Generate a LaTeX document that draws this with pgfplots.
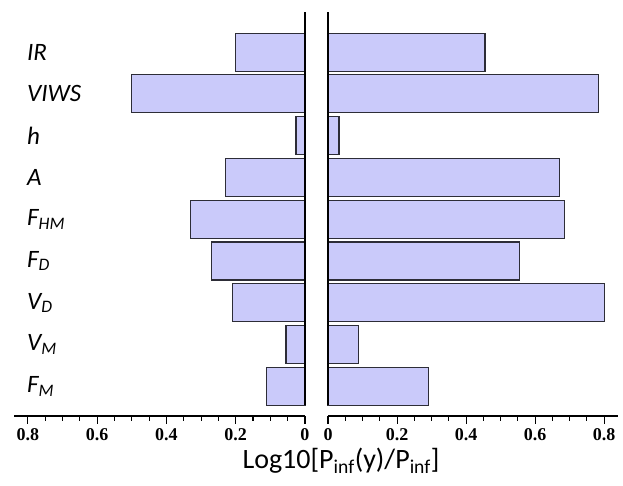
\documentclass[border=0pt]{standalone}
\usepackage{pgfplots}
\pgfplotsset{compat=1.18}
\usepackage{fontspec}
\setmainfont{Carlito}
\newfontfamily\tickfont{Liberation Serif}
\definecolor{barfill}{RGB}{202,202,250}
\definecolor{baredge}{RGB}{45,45,55}
\begin{document}
\begin{tikzpicture}
\useasboundingbox (0pt,0pt) rectangle (623pt,486pt);
\pgfplotsset{
  panel/.style={
    anchor=south west, scale only axis, height=404pt,
    ymin=0.293, ymax=9.96,
    axis lines*=left,
    y axis line style={draw=none},
    x axis line style={line width=1.3pt},
    ytick={1,...,9},
    tick align=outside,
    major tick length=8pt, minor tick length=5pt,
    tick style={black, line width=1.1pt},
    ytick style={draw=none},
    minor x tick num=3,
    xticklabel style={font=\tickfont\bfseries\fontsize{18}{20}\selectfont, yshift=-1pt},
    xbar, bar width=38pt,
    clip=false,
  },
}
\begin{axis}[panel, at={(14pt,70pt)}, width=291pt, xmin=-0.84, xmax=0,
  xtick={-0.8,-0.6,-0.4,-0.2,0}, xticklabels={0.8,0.6,0.4,0.2,0},
  yticklabels={{F\textsubscript{M}},{V\textsubscript{M}},{V\textsubscript{D}},{F\textsubscript{D}},{F\textsubscript{HM}},{A},{h},{VIWS},{IR}},
  yticklabel style={anchor=west, inner sep=0pt, xshift=21pt, font=\fontsize{25}{27}\selectfont\itshape},
]
\addplot[fill=barfill, draw=baredge, line width=1.2pt] coordinates {
  (-0.11,1) (-0.055,2) (-0.21,3) (-0.27,4) (-0.33,5) (-0.23,6) (-0.026,7) (-0.50,8) (-0.20,9)};
\addplot[black, sharp plot, line width=1.3pt] coordinates {(0,0.545) (0,9.96)};
\end{axis}
\begin{axis}[panel, at={(328pt,70pt)}, width=290pt, xmin=0, xmax=0.84,
  xtick={0,0.2,0.4,0.6,0.8}, xticklabels={0,0.2,0.4,0.6,0.8},
  ytick=\empty,
]
\addplot[fill=barfill, draw=baredge, line width=1.2pt] coordinates {
  (0.29,1) (0.088,2) (0.80,3) (0.555,4) (0.684,5) (0.67,6) (0.032,7) (0.783,8) (0.455,9)};
\addplot[black, sharp plot, line width=1.3pt] coordinates {(0,0.545) (0,9.96)};
\end{axis}
\node[anchor=base, font=\fontsize{28}{30}\selectfont] at (341pt,17pt) {Log10[P\textsubscript{inf}(y)/P\textsubscript{inf}]};
\end{tikzpicture}
\end{document}
